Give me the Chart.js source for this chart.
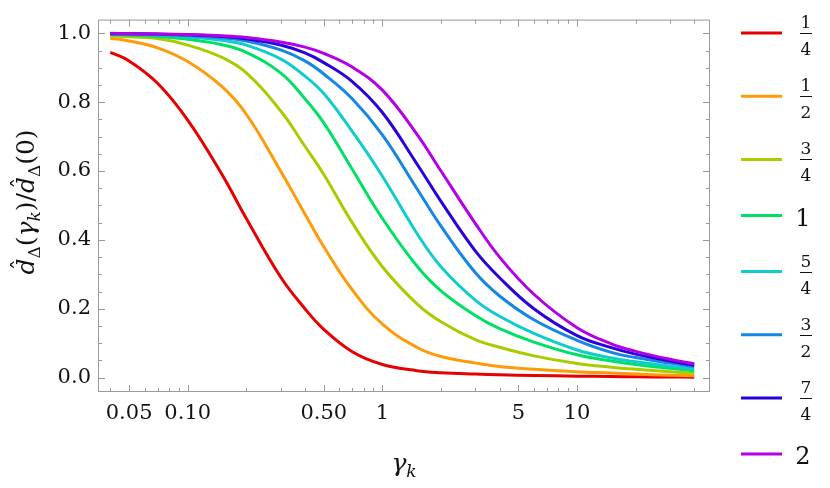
<html>
<head>
<script src="https://cdn.jsdelivr.net/npm/chart.js"></script>
<title>d-hat ratio vs gamma_k</title>
<style>
  body { margin: 0; background: #fff; }
  .chart-wrapper { width: 830px; height: 488px; position: relative; }
</style>
</head>
<body>
<div class="chart-wrapper"><canvas id="chart-1"></canvas></div>

<script>
  // gamma_k sample points (x, log axis)
  const gammaValues = [0.04, 0.05, 0.07, 0.1, 0.15, 0.2, 0.3, 0.4, 0.5, 0.7, 1, 1.5, 2, 3, 4, 6, 10, 15, 20, 30, 40];

  // one curve per Delta
  const ratioQuarter      = [0.945, 0.92, 0.855, 0.748, 0.59, 0.462, 0.292, 0.2, 0.14, 0.075, 0.038, 0.02, 0.014, 0.01, 0.008, 0.006, 0.004, 0.003, 0.002, 0.0015, 0.001];
  const ratioHalf         = [0.986, 0.978, 0.958, 0.918, 0.845, 0.765, 0.6, 0.475, 0.38, 0.255, 0.155, 0.088, 0.061, 0.042, 0.032, 0.024, 0.017, 0.013, 0.01, 0.007, 0.005];
  const ratioThreeQuarter = [0.993, 0.99, 0.985, 0.966, 0.93, 0.885, 0.775, 0.672, 0.59, 0.45, 0.322, 0.215, 0.162, 0.11, 0.088, 0.063, 0.041, 0.03, 0.024, 0.017, 0.012];
  const ratioOne          = [0.996, 0.995, 0.991, 0.983, 0.967, 0.945, 0.885, 0.81, 0.74, 0.605, 0.462, 0.325, 0.252, 0.18, 0.142, 0.103, 0.066, 0.048, 0.038, 0.027, 0.02];
  const ratioFiveQuarter  = [0.998, 0.997, 0.995, 0.99, 0.98, 0.966, 0.926, 0.876, 0.825, 0.715, 0.585, 0.42, 0.322, 0.225, 0.178, 0.128, 0.08, 0.057, 0.046, 0.033, 0.025];
  const ratioThreeHalf    = [0.999, 0.998, 0.997, 0.994, 0.987, 0.978, 0.952, 0.92, 0.882, 0.81, 0.705, 0.55, 0.44, 0.305, 0.237, 0.168, 0.108, 0.073, 0.058, 0.042, 0.032];
  const ratioSevenQuarter = [0.999, 0.999, 0.998, 0.996, 0.991, 0.984, 0.966, 0.943, 0.915, 0.86, 0.77, 0.622, 0.512, 0.368, 0.29, 0.2, 0.122, 0.087, 0.068, 0.048, 0.036];
  const ratioTwo          = [1.0, 0.999, 0.998, 0.997, 0.993, 0.988, 0.975, 0.96, 0.942, 0.902, 0.835, 0.708, 0.6, 0.448, 0.35, 0.242, 0.145, 0.098, 0.076, 0.053, 0.04];

  const seriesLabels = ["1/4", "1/2", "3/4", "1", "5/4", "3/2", "7/4", "2"];
  const seriesColors = ["#e80000", "#ff9a0a", "#a8cc00", "#00e064", "#10cccc", "#1486e6", "#2a00dc", "#b400e6"];
  const seriesValues = [ratioQuarter, ratioHalf, ratioThreeQuarter, ratioOne, ratioFiveQuarter, ratioThreeHalf, ratioSevenQuarter, ratioTwo];

  const xTickValues = [0.05, 0.1, 0.5, 1, 5, 10];
  const xTickLabels = ["0.05", "0.10", "0.50", "1", "5", "10"];
  const xMinorTicks = [0.04, 0.06, 0.07, 0.08, 0.09, 0.2, 0.3, 0.4, 0.6, 0.7, 0.8, 0.9, 2, 3, 4, 6, 7, 8, 9, 20, 30, 40];
  const yTickValues = [0, 0.2, 0.4, 0.6, 0.8, 1.0];
  const yTickLabels = ["0.0", "0.2", "0.4", "0.6", "0.8", "1.0"];
  const yMinorTicks = [0.05, 0.1, 0.15, 0.25, 0.3, 0.35, 0.45, 0.5, 0.55, 0.65, 0.7, 0.75, 0.85, 0.9, 0.95];

  const serif = "'DejaVu Serif', serif";

  // frame with inward ticks on all four sides
  const frameTicks = {
    id: 'frameTicks',
    afterDatasetsDraw(chart) {
      const { ctx, chartArea: a, scales: { x, y } } = chart;
      ctx.save();
      ctx.strokeStyle = '#9a9a9a';
      ctx.lineWidth = 1;
      ctx.strokeRect(a.left + 0.5, a.top + 0.5, a.right - a.left - 1, a.bottom - a.top - 1);
      ctx.beginPath();
      function tx(v, len) {
        const p = Math.round(x.getPixelForValue(v)) + 0.5;
        ctx.moveTo(p, a.bottom); ctx.lineTo(p, a.bottom - len);
        ctx.moveTo(p, a.top); ctx.lineTo(p, a.top + len);
      }
      function ty(v, len) {
        const p = Math.round(y.getPixelForValue(v)) + 0.5;
        ctx.moveTo(a.left, p); ctx.lineTo(a.left + len, p);
        ctx.moveTo(a.right, p); ctx.lineTo(a.right - len, p);
      }
      xTickValues.forEach(v => tx(v, 7));
      xMinorTicks.forEach(v => tx(v, 4));
      yTickValues.forEach(v => ty(v, 7));
      yMinorTicks.forEach(v => ty(v, 4));
      ctx.stroke();
      ctx.restore();
    }
  };

  // draw a run of text pieces (with subscripts / hats) starting at x0 on baseline
  function drawPieces(ctx, pieces, x0, base) {
    let cx = x0;
    pieces.forEach(p => {
      ctx.font = p.font;
      ctx.fillText(p.t, cx, base + (p.dy || 0));
      const w = ctx.measureText(p.t).width;
      if (p.hat) {
        ctx.font = "22px " + serif;
        ctx.textAlign = 'center';
        ctx.fillText("\u02C6", cx + w * 0.62, base - 6);
        ctx.textAlign = 'left';
      }
      cx += w + (p.gap || 0);
    });
    return cx - x0;
  }
  function piecesWidth(ctx, pieces) {
    let w = 0;
    pieces.forEach(p => { ctx.font = p.font; w += ctx.measureText(p.t).width + (p.gap || 0); });
    return w;
  }

  const mainIt = "italic 25px " + serif;
  const mainUp = "25px " + serif;
  const subIt = "italic 17px " + serif;
  const subUp = "17px " + serif;
  const yTitle = [
    { t: "d", font: mainIt, hat: true },
    { t: "\u0394", font: subUp, dy: 6 },
    { t: "(", font: mainUp },
    { t: "\u03B3", font: mainIt },
    { t: "k", font: subIt, dy: 6 },
    { t: ")", font: mainUp },
    { t: "/", font: mainUp },
    { t: "d", font: mainIt, hat: true },
    { t: "\u0394", font: subUp, dy: 6 },
    { t: "(0)", font: mainUp }
  ];
  const xTitle = [
    { t: "\u03B3", font: mainIt },
    { t: "k", font: subIt, dy: 6 }
  ];

  const axisTitles = {
    id: 'axisTitles',
    afterDraw(chart) {
      const ctx = chart.ctx;
      ctx.save();
      ctx.fillStyle = '#111';
      ctx.textAlign = 'left';
      ctx.textBaseline = 'alphabetic';
      const xw = piecesWidth(ctx, xTitle);
      drawPieces(ctx, xTitle, 404 - xw / 2, 471);
      ctx.translate(34, 202);
      ctx.rotate(-Math.PI / 2);
      const yw = piecesWidth(ctx, yTitle);
      drawPieces(ctx, yTitle, -yw / 2, 0);
      ctx.restore();
    }
  };

  const fractionLegend = {
    id: 'fractionLegend',
    afterDraw(chart) {
      const ctx = chart.ctx;
      ctx.save();
      let y = 33;
      let prevFrac = null;
      seriesLabels.forEach((lab, i) => {
        const isFrac = lab.indexOf('/') >= 0;
        if (prevFrac !== null) y += (prevFrac ? 31.6 : 24.5) + (isFrac ? 31.6 : 24.5);
        prevFrac = isFrac;
        ctx.strokeStyle = seriesColors[i];
        ctx.lineWidth = 3;
        ctx.beginPath();
        ctx.moveTo(741, y); ctx.lineTo(782, y);
        ctx.stroke();
        ctx.fillStyle = '#111';
        ctx.textAlign = 'center';
        ctx.textBaseline = 'alphabetic';
        if (isFrac) {
          const parts = lab.split('/');
          ctx.font = "17px " + serif;
          ctx.fillText(parts[0], 806, y - 5);
          ctx.fillText(parts[1], 806, y + 22);
          ctx.fillRect(800, Math.round(y), 12, 1);
        } else {
          ctx.font = "24px " + serif;
          ctx.fillText(lab, 803, y + 10);
        }
      });
      ctx.restore();
    }
  };

  const datasets = seriesValues.map((vals, i) => ({
    label: seriesLabels[i],
    data: gammaValues.map((g, j) => ({ x: g, y: vals[j] })),
    borderColor: seriesColors[i],
    backgroundColor: seriesColors[i],
    borderWidth: 3,
    pointRadius: 0,
    tension: 0.4,
    fill: false,
    order: seriesValues.length - i
  }));

  const config = {
    type: 'line',
    data: { datasets: datasets },
    options: {
      responsive: true,
      maintainAspectRatio: false,
      animation: false,
      layout: { padding: { left: 0, top: 13, right: 120, bottom: 0 } },
      plugins: {
        legend: { display: false },
        tooltip: { enabled: false }
      },
      scales: {
        x: {
          type: 'logarithmic',
          min: 0.0346,
          max: 48.2,
          grid: { display: false, drawTicks: false },
          border: { display: false },
          afterBuildTicks: s => { s.ticks = xTickValues.map(v => ({ value: v })); },
          afterFit: s => { s.height = 96; },
          ticks: {
            autoSkip: false,
            maxRotation: 0,
            padding: 9,
            color: '#111',
            font: { family: serif, size: 21 },
            callback: (v, i) => xTickLabels[i]
          }
        },
        y: {
          type: 'linear',
          min: -0.042,
          max: 1.04,
          grid: { display: false, drawTicks: false },
          border: { display: false },
          afterBuildTicks: s => { s.ticks = yTickValues.map(v => ({ value: v })); },
          afterFit: s => { s.width = 98; },
          ticks: {
            padding: 7,
            color: '#111',
            font: { family: serif, size: 21 },
            callback: (v, i) => yTickLabels[i]
          }
        }
      }
    },
    plugins: [frameTicks, axisTitles, fractionLegend]
  };

  const chart = new Chart(document.getElementById('chart-1'), config);
</script>
</body>
</html>
